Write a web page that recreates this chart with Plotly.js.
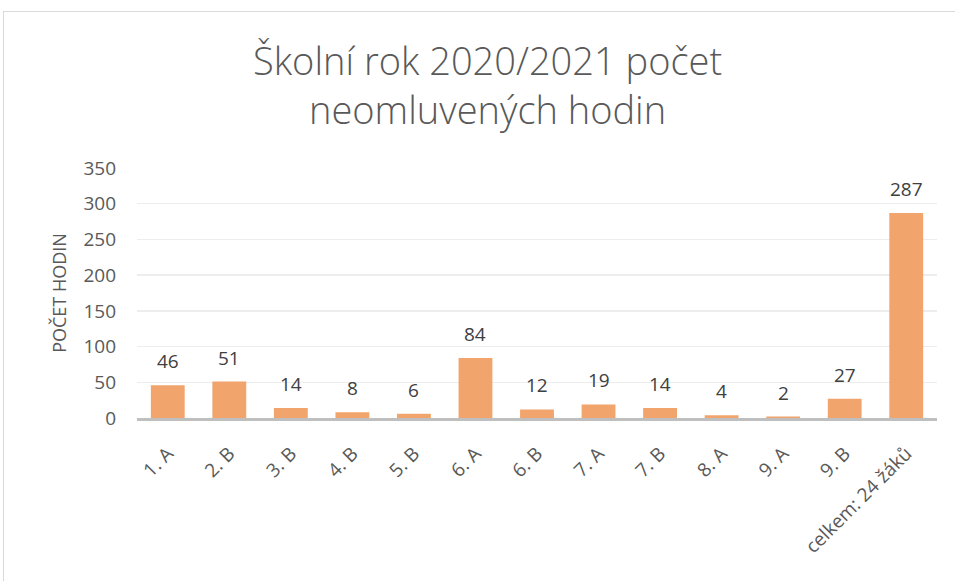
<!DOCTYPE html>
<html><head><meta charset="utf-8">
<script src="https://cdn.plot.ly/plotly-3.0.1.min.js"></script>
<style>
body{margin:0;padding:0;background:#fff;}
#wrap{position:relative;width:955px;height:581px;overflow:hidden;}
#frame{position:absolute;left:3px;top:11px;width:960px;height:580px;border:1px solid #D9D9D9;pointer-events:none;}
#chart{position:absolute;left:0;top:0;width:955px;height:581px;}
</style></head>
<body><div id="wrap"><div id="chart"></div><div id="frame"></div></div>
<script>
const categories = ["1. A","2. B","3. B","4. B","5. B","6. A","6. B","7. A","7. B","8. A","9. A","9. B","celkem: 24 žáků"];
const hours = [46,51,14,8,6,84,12,19,14,4,2,27,287];
const yTicks = [0,50,100,150,200,250,300,350];
const chartTitle = 'Školní rok 2020/2021 počet<br>neomluvených hodin';

const trace = {
  type:'bar', x:categories, y:hours,
  marker:{color:'#F1A46C'},
  hoverinfo:'none'
};
const labels = categories.map((c,i)=>({
  x:c, y:hours[i], xref:'x', yref:'y', text:String(hours[i]), showarrow:false,
  yanchor:'bottom', yshift:9,
  font:{family:'Open Sans, sans-serif', size:19, color:'#404040'}
}));
labels.push({
  text:chartTitle, xref:'paper', yref:'paper', x:(487-137)/800, y:(581-163-85)/250,
  xanchor:'center', yanchor:'middle', showarrow:false, align:'center',
  font:{family:'Open Sans, sans-serif', size:38, color:'#595959', weight:300}
});
const layout = {
  width:955, height:581,
  margin:{l:137, r:18, t:168, b:163},
  paper_bgcolor:'rgba(0,0,0,0)', plot_bgcolor:'#fff',
  bargap:0.45,
  font:{family:'Open Sans, sans-serif', color:'#595959'},
  annotations:labels,
  xaxis:{type:'category', tickangle:-45, tickfont:{size:19, color:'#595959'}, ticklabelstandoff:14, showline:true, linecolor:'#BFBFBF', linewidth:3, ticks:'', showgrid:false, zeroline:false},
  yaxis:{range:[0,350], tickvals:yTicks, tickfont:{size:19, color:'#595959'}, showgrid:true, gridcolor:'#EDEDED', gridwidth:1.5, zeroline:false, showline:false, ticks:'', ticklabelstandoff:20,
    title:{text:'POČET HODIN', font:{size:18, color:'#595959'}, standoff:12}},
  showlegend:false
};
Plotly.newPlot('chart',[trace],layout,{displayModeBar:false,staticPlot:true});
</script></body></html>
